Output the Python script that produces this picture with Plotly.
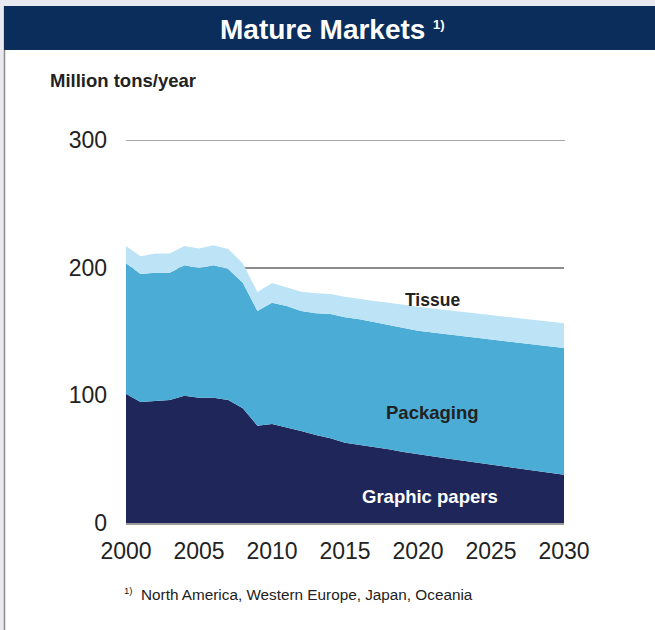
import plotly.graph_objects as go

years = list(range(2000, 2031))
graphic_papers = [101.0, 94.8, 95.6, 96.3, 99.7, 98.2, 98.2, 96.3, 89.8, 76.2,
                  77.5, 75.0, 72.0, 68.9, 66.3, 62.9, 61.3, 59.8, 57.7, 55.6,
                  53.8, 52.2, 50.6, 49.0, 47.4, 45.8, 44.2, 42.6, 41.0, 39.4, 37.8]
packaging = [102.4, 100.2, 100.4, 99.7, 102.1, 101.5, 103.6, 102.7, 98.4, 89.8,
             95.1, 95.0, 94.0, 95.3, 97.4, 98.2, 98.2, 97.4, 97.4, 97.4,
             96.8, 97.0, 97.3, 97.5, 97.8, 98.0, 98.2, 98.5, 98.7, 99.0, 99.2]
tissue = [13.6, 14.0, 15.0, 15.0, 15.2, 15.3, 15.7, 15.6, 15.2, 15.0,
          15.4, 14.5, 15.2, 15.7, 15.7, 16.2, 16.0, 16.7, 17.5, 17.8,
          18.8, 18.9, 18.9, 19.0, 19.0, 19.1, 19.2, 19.2, 19.3, 19.3, 19.4]
x_ticks = [2000, 2005, 2010, 2015, 2020, 2025, 2030]
y_ticks = [0, 100, 200, 300]

W, H = 655, 630
L, R, T, B = 126, 91, 140, 107
PW, PH = W - L - R, H - T - B


def px(x):
    return (x - L) / PW


def py(y):
    return (H - B - y) / PH


FONT = "Liberation Sans, Arial, sans-serif"

fig = go.Figure()
fig.add_trace(go.Scatter(x=years, y=graphic_papers, name="Graphic papers", stackgroup="one",
                         mode="lines", line=dict(width=0), fillcolor="#1f275a", hoverinfo="skip"))
fig.add_trace(go.Scatter(x=years, y=packaging, name="Packaging", stackgroup="one",
                         mode="lines", line=dict(width=0), fillcolor="#4badd6", hoverinfo="skip"))
fig.add_trace(go.Scatter(x=years, y=tissue, name="Tissue", stackgroup="one",
                         mode="lines", line=dict(width=0), fillcolor="#bde3f6", hoverinfo="skip"))

shapes = [
    dict(type="rect", xref="paper", yref="paper", x0=px(0), x1=px(W), y0=py(6), y1=py(0),
         fillcolor="#e9eaef", line=dict(width=0), layer="below"),
    dict(type="rect", xref="paper", yref="paper", x0=px(0), x1=px(4), y0=py(H), y1=py(0),
         fillcolor="#e9eaef", line=dict(width=0), layer="below"),
    dict(type="line", xref="paper", yref="paper", x0=px(4.5), x1=px(4.5), y0=py(H), y1=py(6),
         line=dict(color="#8c8c8c", width=1.5)),
    dict(type="rect", xref="paper", yref="paper", x0=px(4), x1=px(W), y0=py(50), y1=py(6),
         fillcolor="#0b2d5b", line=dict(width=0)),
    dict(type="line", xref="paper", yref="y", x0=0, x1=px(565), y0=300, y1=300,
         line=dict(color="#8c8c8c", width=1.5), layer="below"),
]

annotations = [
    dict(text="<b>Mature Markets</b>", xref="paper", yref="paper",
         x=px(322), y=py(29), showarrow=False, xanchor="center", yanchor="middle",
         font=dict(family=FONT, size=28, color="white")),
    dict(text="<b>1)</b>", xref="paper", yref="paper",
         x=px(431), y=py(24), showarrow=False, xanchor="left", yanchor="middle",
         font=dict(family=FONT, size=13, color="white")),
    dict(text="<b>Million tons/year</b>", xref="paper", yref="paper",
         x=px(48), y=py(80), showarrow=False, xanchor="left", yanchor="middle",
         font=dict(family=FONT, size=18.5, color="#222222")),
    dict(text="1)", xref="paper", yref="paper",
         x=px(122), y=py(590), showarrow=False, xanchor="left", yanchor="middle",
         font=dict(family=FONT, size=9.5, color="#222222")),
    dict(text="North America, Western Europe, Japan, Oceania",
         xref="paper", yref="paper",
         x=px(139), y=py(594), showarrow=False, xanchor="left", yanchor="middle",
         font=dict(family=FONT, size=15.3, color="#222222")),
    dict(text="<b>Tissue</b>", xref="paper", yref="paper",
         x=px(432), y=py(300), showarrow=False, xanchor="center", yanchor="middle",
         font=dict(family=FONT, size=17.5, color="#222222")),
    dict(text="<b>Packaging</b>", xref="paper", yref="paper",
         x=px(432), y=py(412), showarrow=False, xanchor="center", yanchor="middle",
         font=dict(family=FONT, size=18.5, color="#222222")),
    dict(text="<b>Graphic papers</b>", xref="paper", yref="paper",
         x=px(430), y=py(496), showarrow=False, xanchor="center", yanchor="middle",
         font=dict(family=FONT, size=18.5, color="white")),
]

fig.update_layout(
    width=W, height=H,
    margin=dict(l=L, r=R, t=T, b=B, pad=0),
    paper_bgcolor="white", plot_bgcolor="white",
    showlegend=False,
    shapes=shapes, annotations=annotations,
    xaxis=dict(range=[2000, 2030], tickvals=x_ticks, ticks="", showgrid=False,
               showline=True, linecolor="#9a9a9a", linewidth=2, zeroline=False,
               tickfont=dict(family=FONT, size=23, color="#222222"), ticklabelstandoff=6),
    yaxis=dict(range=[0, 300], tickvals=y_ticks, ticks="", showgrid=True,
               gridcolor="#8c8c8c", gridwidth=1.5, zeroline=False, showline=False,
               tickfont=dict(family=FONT, size=23, color="#222222"), ticklabelstandoff=18),
)

fig.write_html("out.html", config={"displayModeBar": False},
               post_script="document.body.style.margin='0';document.body.style.overflow='hidden';")
